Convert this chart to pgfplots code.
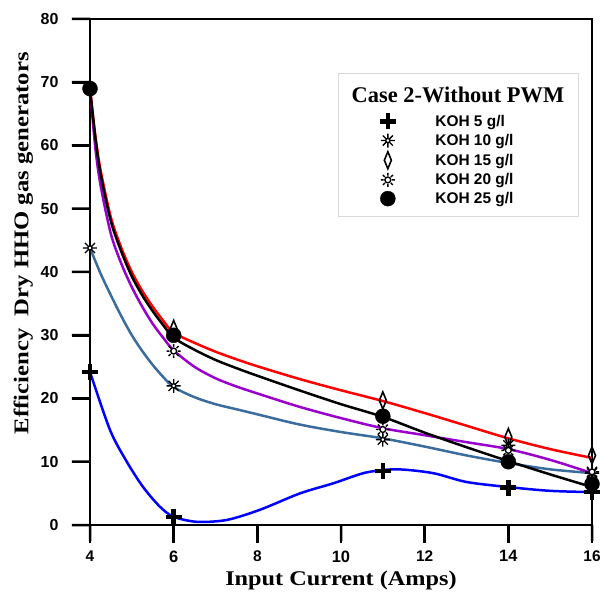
\documentclass[border=0pt]{standalone}
\usepackage{fontspec}
\setmainfont{Liberation Serif}
\setsansfont{Liberation Sans}
\usepackage{graphicx}
\usepackage{pgfplots}
\pgfplotsset{compat=1.18}
\usepackage{pgfplotstable}
\definecolor{cpurple}{RGB}{153,0,204}
\definecolor{csteel}{RGB}{58,108,158}
\definecolor{cblue}{RGB}{0,0,255}
\definecolor{cred}{RGB}{255,0,0}

\pgfdeclareplotmark{spark}{%
  \pgfpathmoveto{\pgfqpoint{0pt}{\pgfplotmarksize}}\pgfpathlineto{\pgfqpoint{0pt}{-\pgfplotmarksize}}%
  \pgfpathmoveto{\pgfqpoint{-\pgfplotmarksize}{0pt}}\pgfpathlineto{\pgfqpoint{\pgfplotmarksize}{0pt}}%
  \pgfpathmoveto{\pgfqpoint{-.72\pgfplotmarksize}{-.72\pgfplotmarksize}}\pgfpathlineto{\pgfqpoint{.72\pgfplotmarksize}{.72\pgfplotmarksize}}%
  \pgfpathmoveto{\pgfqpoint{-.72\pgfplotmarksize}{.72\pgfplotmarksize}}\pgfpathlineto{\pgfqpoint{.72\pgfplotmarksize}{-.72\pgfplotmarksize}}%
  \pgfusepathqstroke
  \pgfpathcircle{\pgfpointorigin}{.3\pgfplotmarksize}%
  \pgfsetfillcolor{white}\pgfusepathqfillstroke}
\pgfdeclareplotmark{sun}{%
  \pgfpathcircle{\pgfpointorigin}{.42\pgfplotmarksize}%
  \pgfsetfillcolor{white}\pgfusepathqfillstroke
  \foreach \a in {0,45,...,315}{%
    \pgfpathmoveto{\pgfpointpolar{\a}{.6\pgfplotmarksize}}%
    \pgfpathlineto{\pgfpointpolar{\a}{\pgfplotmarksize}}}%
  \pgfusepathqstroke}

\pgfplotstableread{
x y
4 69
4.125 61.7
4.25 56.2
4.5 48.6
4.75 43.8
5 40.0
5.25 37.0
5.5 34.5
5.75 32.3
6 30.4
6.5 28.8
7 27.4
7.5 26.2
8 25.1
9 23.1
10 21.3
11 19.6
12 17.7
13 15.7
14 13.7
15 12.0
16 10.6
}\redline
\pgfplotstableread{
x y
4 69
4.125 61.4
4.25 55.6
4.5 48.0
4.75 43.2
5 39.3
5.25 36.3
5.5 33.8
5.75 31.6
6 29.6
6.5 27.7
7 26.1
7.5 24.8
8 23.6
9 21.3
10 19.1
11 17.1
12 14.6
13 12.3
14 10.1
15 8.0
16 6.0
}\blackline
\pgfplotstableread{
x y
4 69
4.125 59.8
4.25 53.8
4.5 46.0
4.75 41.3
5 37.6
5.25 34.5
5.5 31.8
5.75 29.6
6 27.6
6.5 25.0
7 23.2
7.5 21.9
8 20.8
9 18.7
10 16.9
11 15.3
12 14.2
13 13.1
14 12.0
15 10.3
16 8.2
}\purpleline
\pgfplotstableread{
x y
4 43.8
4.25 39.8
4.5 36.3
4.75 33.0
5 30.0
5.25 27.5
5.5 25.3
5.75 23.4
6 21.8
6.5 20.2
7 19.1
7.5 18.3
8 17.5
9 15.9
10 14.7
11 13.7
12 12.4
13 11.0
14 9.8
15 8.8
16 8.2
}\steelline
\pgfplotstableread{
x y
4 24.2
4.48 15.0
4.88 10.0
5.27 6.0
5.67 2.9
6 1.3
6.56 0.5
7.27 0.8
8.06 2.4
9.02 5.0
9.82 6.6
10.6 8.3
11.34 8.8
12.2 8.2
13 6.8
14 6.0
15 5.4
16 5.2
}\blueline

\begin{document}
\begin{tikzpicture}
\path[use as bounding box] (-90bp,-71bp) rectangle (510bp,525bp);
\draw[black, line width=2.5bp] (0bp,0bp) rectangle (502bp,506bp);
\begin{axis}[
  at={(0,0)}, anchor=south west,
  scale only axis, width=502bp, height=506bp,
  xmin=4, xmax=16, ymin=0, ymax=80,
  xtick={4,6,8,10,12,14,16},
  xticklabels={4,{\fontsize{16.5}{16.5}\selectfont 6},8,{\fontsize{16.5}{16.5}\selectfont 10},12,{\fontsize{16.5}{16.5}\selectfont 14},16},
  ytick={0,10,...,80},
  /pgf/number format/assume math mode=true,
  tick pos=left,
  tick align=outside,
  major tick length=18bp,
  axis line style={line width=2.5bp},
  tick style={black, line width=2.5bp},
  ticklabel style={font=\fontsize{15.5}{15.5}\sffamily\bfseries},
  xticklabel style={yshift=-4bp},
  yticklabel style={font=\fontsize{16}{16}\sffamily\bfseries, xshift=-10bp},
  xlabel={\scalebox{1.16}[1]{Input Current (Amps)}},
  ylabel={\scalebox{1.18}[1]{Efficiency\ \ Dry HHO gas generators}},
  label style={font=\fontsize{21}{21}\rmfamily\bfseries},
  xlabel style={at={(axis description cs:0.5,-0.109)}, anchor=center},
  ylabel style={at={(axis description cs:-0.133,0.557)}, anchor=center},
  clip=false,
  legend style={at={(axis description cs:0.577,0.814)}, anchor=north west,
    draw=none, fill=none, inner sep=0pt, row sep=4.2bp,
    font=\fontsize{15.5}{15.5}\sffamily\bfseries,
    nodes={inner sep=0pt},
    /tikz/every odd column/.append style={column sep=39.5bp}},
  legend cell align=left,
]
\draw[gray!30, line width=0.8bp] (axis description cs:0.494,0.609) rectangle (axis description cs:0.972,0.893);
\node[font=\fontsize{22.5}{22.5}\rmfamily\bfseries] at (axis description cs:0.733,0.850) {Case 2-Without PWM};

\addplot[cblue, line width=2.5bp, smooth, forget plot] table {\blueline};
\addplot[csteel, line width=2.5bp, smooth, forget plot] table {\steelline};
\addplot[cpurple, line width=2.5bp, smooth, forget plot] table {\purpleline};
\addplot[cred, line width=2.5bp, smooth, forget plot] table {\redline};
\addplot[black, line width=2.5bp, smooth, forget plot] table {\blackline};

\addplot[only marks, mark=+, mark size=8bp, mark options={black, line width=4.5bp}] coordinates {(4,24.2) (6,1.3) (11,8.5) (14,5.9) (16,5.2)};
\addlegendentry{KOH 5 g/l}
\addplot[only marks, mark=spark, mark size=7bp, mark options={black, line width=1.3bp}] coordinates {(4,43.8) (6,22.0) (11,13.5) (14,12.6) (16,8.2)};
\addlegendentry{KOH 10 g/l}
\addplot[only marks, mark=diamond, mark size=8.5bp, mark options={black, fill=white, line width=1.6bp, xscale=0.55}] coordinates {(4,69) (6,31) (11,19.7) (14,13.9) (16,11.0)};
\addlegendentry{KOH 15 g/l}
\addplot[only marks, mark=sun, mark size=7bp, mark options={black, line width=1.4bp}] coordinates {(4,69) (6,27.5) (11,15.1) (14,11.8) (16,8.4)};
\addlegendentry{KOH 20 g/l}
\addplot[only marks, mark=*, mark size=7.5bp, mark options={black, fill=black}] coordinates {(4,69) (6,30) (11,17.2) (14,10.0) (16,6.5)};
\addlegendentry{KOH 25 g/l}
\end{axis}
\fill[black]
  (-18bp,-1.25bp) rectangle (0bp,1.25bp)
  (-18bp,62bp) rectangle (0bp,64.5bp)
  (-18bp,125.25bp) rectangle (0bp,127.75bp)
  (-18bp,188.5bp) rectangle (0bp,191bp)
  (-18bp,251.75bp) rectangle (0bp,254.25bp)
  (-18bp,315bp) rectangle (0bp,317.5bp)
  (-18bp,378.25bp) rectangle (0bp,380.75bp)
  (-18bp,441.5bp) rectangle (0bp,444bp)
  (-18bp,504.75bp) rectangle (0bp,507.25bp);
\fill[black]
  (-1.25bp,-16bp) rectangle (1.25bp,0bp)
  (82.417bp,-16bp) rectangle (84.917bp,0bp)
  (166.083bp,-16bp) rectangle (168.583bp,0bp)
  (249.75bp,-16bp) rectangle (252.25bp,0bp)
  (333.417bp,-16bp) rectangle (335.917bp,0bp)
  (417.083bp,-16bp) rectangle (419.583bp,0bp)
  (500.75bp,-16bp) rectangle (503.25bp,0bp);
\end{tikzpicture}
\end{document}
